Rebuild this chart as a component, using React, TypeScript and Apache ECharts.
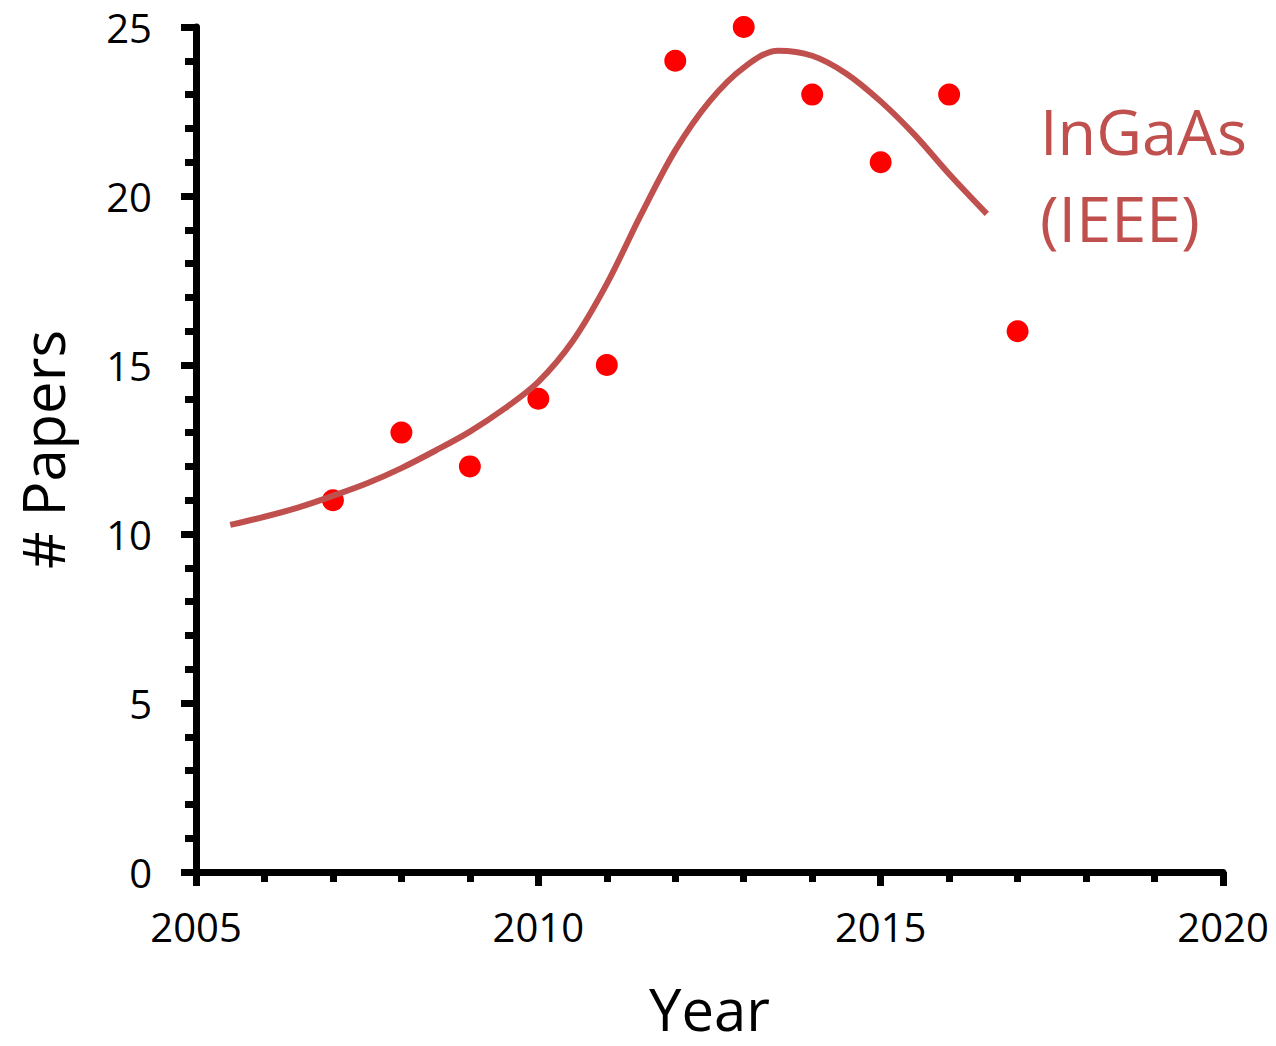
import React, { useEffect, useRef } from "react";
import * as echarts from "echarts";

const years = [2007, 2008, 2009, 2010, 2011, 2012, 2013, 2014, 2015, 2016, 2017];
const papers = [11, 13, 12, 14, 15, 24, 25, 23, 21, 23, 16];

const fitYears = [2005.5, 2006, 2006.5, 2007, 2007.5, 2008, 2008.5, 2009, 2009.5, 2010, 2010.5, 2011, 2011.5, 2012, 2012.5, 2013, 2013.5, 2014, 2014.5, 2015, 2015.5, 2016, 2016.55];
const fitValues = [10.27, 10.51, 10.79, 11.13, 11.5, 11.95, 12.47, 13.03, 13.7, 14.5, 15.7, 17.4, 19.45, 21.35, 22.8, 23.8, 24.3, 24.15, 23.62, 22.8, 21.8, 20.65, 19.47];

const FONT = "'Open Sans', 'Noto Sans', sans-serif";
const LINE_COLOR = "#C0504D";

export default function App() {
  const ref = useRef<HTMLDivElement>(null);
  useEffect(() => {
    if (!ref.current) return;
    const chart = echarts.init(ref.current, null, { renderer: "svg" });
    chart.setOption({
      animation: false,
      backgroundColor: "#ffffff",
      grid: { left: 196, right: 53, top: 27, bottom: 174, containLabel: false, outerBoundsMode: "none" },
      xAxis: {
        type: "value",
        min: 2005,
        max: 2020,
        interval: 5,
        name: "Year",
        nameLocation: "middle",
        nameGap: 114,
        nameTextStyle: { fontFamily: FONT, fontSize: 58, color: "#000", lineHeight: 44 },
        axisLine: { show: true, onZero: false, lineStyle: { color: "#000", width: 7 } },
        axisTick: { show: true, inside: false, length: 14, lineStyle: { color: "#000", width: 7 } },
        minorTick: { show: true, splitNumber: 5, length: 10, lineStyle: { color: "#000", width: 7 } },
        axisLabel: { fontFamily: FONT, fontSize: 40, color: "#000", margin: 34, formatter: (v: number) => String(v) },
        splitLine: { show: false },
        minorSplitLine: { show: false },
      },
      yAxis: {
        type: "value",
        min: 0,
        max: 25,
        interval: 5,
        name: "# Papers",
        nameLocation: "middle",
        nameGap: 125,
        nameRotate: 90,
        nameTextStyle: { fontFamily: FONT, fontSize: 58, color: "#000", lineHeight: 58 },
        axisLine: { show: true, onZero: false, lineStyle: { color: "#000", width: 7 } },
        axisTick: { show: true, inside: false, length: 15, lineStyle: { color: "#000", width: 7 } },
        minorTick: { show: true, splitNumber: 5, length: 11, lineStyle: { color: "#000", width: 7 } },
        axisLabel: { fontFamily: FONT, fontSize: 40, color: "#000", margin: 44 },
        splitLine: { show: false },
        minorSplitLine: { show: false },
      },
      series: [
        {
          type: "scatter",
          data: years.map((y, i) => [y, papers[i]]),
          symbol: "circle",
          symbolSize: 22,
          itemStyle: { color: "#FF0000", opacity: 1 },
          z: 2,
        },
        {
          type: "line",
          data: fitYears.map((y, i) => [y, fitValues[i]]),
          smooth: 0.33,
          showSymbol: false,
          lineStyle: { color: LINE_COLOR, width: 6, cap: "butt" },
          z: 3,
        },
      ],
      graphic: [
        {
          type: "text",
          left: 1040,
          top: 87,
          style: {
            text: "InGaAs\n(IEEE)",
            font: `63px ${FONT}`,
            fill: LINE_COLOR,
            lineHeight: 87,
          },
        },
      ],
    });
    return () => chart.dispose();
  }, []);
  return <div ref={ref} style={{ position: "absolute", left: 0, top: 0, width: 1276, height: 1046 }} />;
}
